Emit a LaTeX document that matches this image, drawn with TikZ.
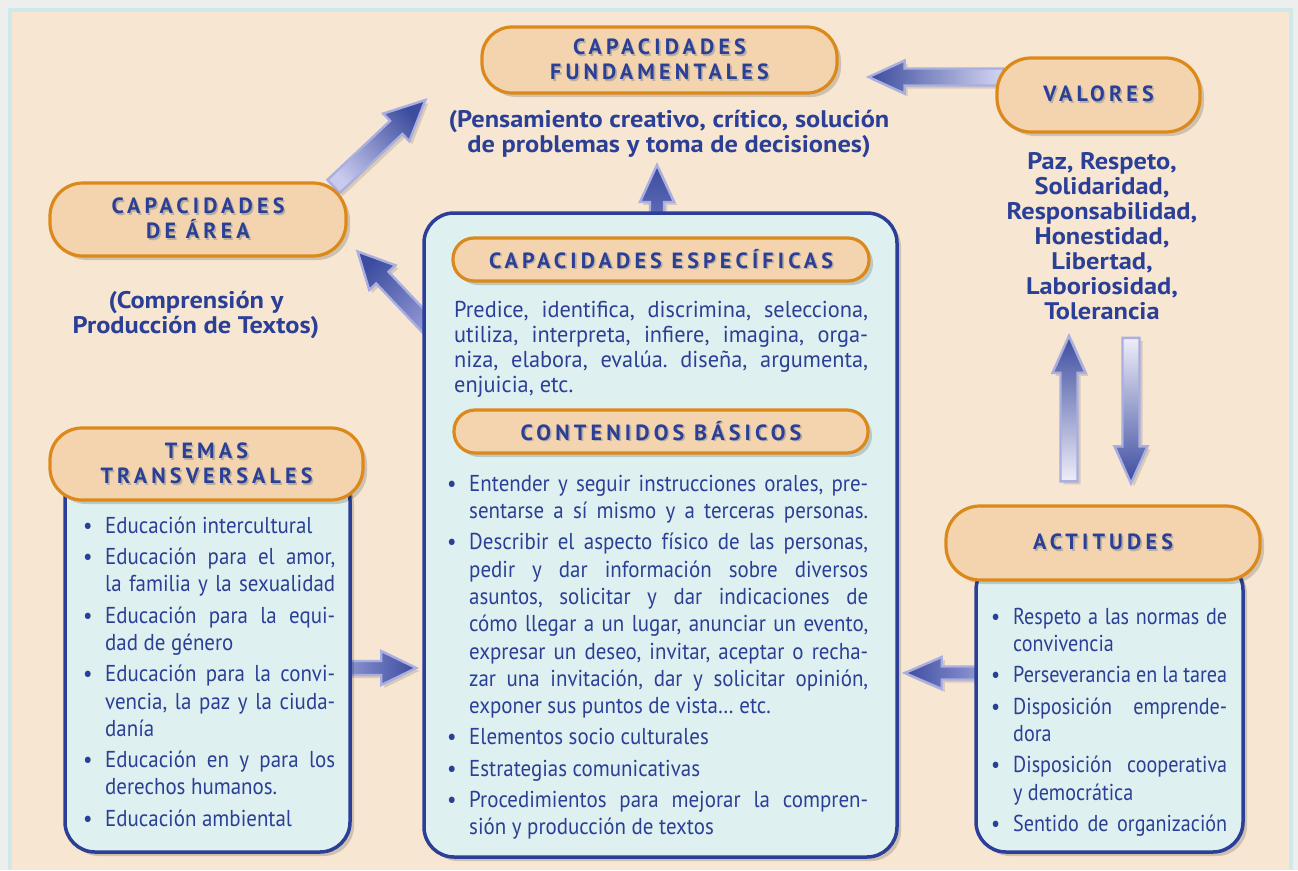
\documentclass[tikz,border=0pt]{standalone}
\usepackage{fontspec}
\setmainfont{PT Sans}
\newfontfamily\hfont[LetterSpace=19]{PT Sans}
\newfontfamily\bfnt[FakeStretch=1.1]{PT Sans}
\newfontfamily\lfont[FakeStretch=0.91]{PT Sans}
\newfontfamily\afont[FakeStretch=0.875]{PT Sans}
\newfontfamily\pfont[FakeStretch=0.97]{PT Sans}
\usetikzlibrary{calc,shadows}
\pgfdeclarelayer{bg}\pgfdeclarelayer{arrows}
\pgfsetlayers{bg,arrows,main}
\frenchspacing
\definecolor{outg}{HTML}{EDEFEF}
\definecolor{cyanB}{HTML}{CFE9E8}
\definecolor{beige}{HTML}{F7E6D1}
\definecolor{orF}{HTML}{F3D4AE}
\definecolor{orD}{HTML}{DC891B}
\definecolor{blF}{HTML}{DEF0EF}
\definecolor{blD}{HTML}{2B3E98}
\definecolor{tblue}{HTML}{2A3F95}
\definecolor{tshadow}{HTML}{B9ADA0}
\definecolor{arrline}{HTML}{AAAEE0}
\definecolor{arrdark}{HTML}{3C4C9F}
\definecolor{tailA}{HTML}{C9CBEE}
\definecolor{tailB}{HTML}{8E94D2}
\definecolor{tailC}{HTML}{D4D6F2}
\definecolor{tailD}{HTML}{5F6BB5}
\definecolor{tailE}{HTML}{8C92CF}
\definecolor{tailF}{HTML}{9096D3}
\definecolor{tailG}{HTML}{EEEEF8}
\newlength\BI \setlength\BI{22pt}
\newcommand\sps{\spaceskip=\fontdimen2\font plus 0.9\fontdimen2\font minus 0.45\fontdimen2\font\relax}
\newcommand\Bu{\makebox[\BI][l]{\textbullet}}
\newcommand\In{\hspace*{\BI}}
\newcommand\J[2]{\hbox to #1{#2}}
\newcommand\fst{\rule{0pt}{22pt}}
% header text with a soft drop shadow
\newcommand\st[1]{\rlap{\kern1.6pt\raisebox{-1.6pt}{\textcolor{tshadow}{#1}}}#1}
\newcommand\fapath[4]{($(#1)!#3!90:(#2)$) -- ($(fab)!#3!90:(#2)$) -- ($(fab)!#4!90:(#2)$) -- (#2) -- ($(fab)!#4!-90:(#2)$) -- ($(fab)!#3!-90:(#2)$) -- ($(#1)!#3!-90:(#2)$) -- cycle}
% #1 tail, #2 tip, #3 shaft half width, #4 head half width, #5 head length, #6 tail colour, #7 tip colour, #8 shading angle
\newcommand\fatarrow[8]{%
  \coordinate (fab) at ($(#2)!#5!(#1)$);
  \fill[black, opacity=0.12, transform canvas={shift={(3pt,-3pt)}}] \fapath{#1}{#2}{#3}{#4};
  \shadedraw[draw=arrline, line width=2.4pt, line join=miter, top color=#7, bottom color=#6, shading angle=#8] \fapath{#1}{#2}{#3}{#4};
}
\begin{document}
\begin{tikzpicture}[x=1pt,y=-1pt,
  shad/.style={drop shadow={shadow xshift=4pt, shadow yshift=-4pt, opacity=0.16, fill=black}},
  obox/.style={shad, draw=orD, line width=3.2pt, fill=orF, text=tblue, align=center, inner sep=0pt,
    font=\hfont\bfseries\fontsize{22}{25}\selectfont},
  bbox/.style={shad, draw=blD, line width=3.5pt, fill=blF, rounded corners=30pt, inner sep=0pt},
  btext/.style={text=tblue, align=center, inner sep=0pt, font=\bfnt\bfseries\fontsize{24}{25}\selectfont},
  listtext/.style={text=tblue, inner sep=0pt, anchor=north west, align=left, font=\lfont\fontsize{23}{27.3}\selectfont\sps},
  acttext/.style={listtext, font=\afont\fontsize{23}{27.6}\selectfont\sps},
  ptext/.style={text=tblue, inner sep=0pt, anchor=north west, align=left, font=\pfont\fontsize{23}{25}\selectfont\sps}
]
\begin{pgfonlayer}{bg}
\fill[outg] (0,0) rectangle (1298,870);
\fill[cyanB] (8,8) rectangle (1293,870);
\fill[beige] (12,12) rectangle (1289,870);
\end{pgfonlayer}
\useasboundingbox (0,0) rectangle (1298,870);

% top
\node[obox, rounded corners=30pt, minimum width=355pt, minimum height=66pt] (fund) at (659.5,60) {\st{CAPACIDADES}\\\st{FUNDAMENTALES}};
\node[btext] (fundsub) at (669,134) {(Pensamiento creativo, crítico, solución\\de problemas y toma de decisiones)};

% valores
\node[obox, rounded corners=34pt, minimum width=203pt, minimum height=74pt] (val) at (1098.5,95) {\st{VALORES}};
\node[btext] (valtext) at (1102,236) {Paz, Respeto,\\Solidaridad,\\Responsabilidad,\\Honestidad,\\Libertad,\\Laboriosidad,\\Tolerancia};

% area
\node[obox, rounded corners=33pt, minimum width=296pt, minimum height=73pt] (area) at (198,219.5) {\st{CAPACIDADES}\\\st{DE ÁREA}};
\node[btext] (areasub) at (196,315) {(Comprensión y\\Producción de Textos)};

% central
\node[bbox, minimum width=473pt, minimum height=644pt] (central) at (660.5,535) {};
\node[obox, rounded corners=21pt, minimum width=416pt, minimum height=43pt] (esp) at (661,259.5) {\st{CAPACIDADES ESPECÍFICAS}};
\node[ptext] (esptext) at (454,295) {%
\fst\J{414pt}{Predice, identifica, discrimina, selecciona,}\\
\J{414pt}{utiliza, interpreta, infiere, imagina, orga-}\\
\J{414pt}{niza, elabora, evalúa. diseña, argumenta,}\\
enjuicia, etc.};
\node[obox, rounded corners=21pt, minimum width=414pt, minimum height=43pt] (cont) at (661,431.5) {\st{CONTENIDOS BÁSICOS}};
\node[listtext] (contlist) at (447,469) {%
\fst\Bu\J{399pt}{Entender y seguir instrucciones orales, pre-}\\
\In\J{399pt}{sentarse a sí mismo y a terceras personas.}\\[4pt]
\Bu\J{399pt}{Describir el aspecto físico de las personas,}\\
\In\J{399pt}{pedir y dar información sobre diversos}\\
\In\J{399pt}{asuntos, solicitar y dar indicaciones de}\\
\In\J{399pt}{cómo llegar a un lugar, anunciar un evento,}\\
\In\J{399pt}{expresar un deseo, invitar, aceptar o recha-}\\
\In\J{399pt}{zar una invitación, dar y solicitar opinión,}\\
\In exponer sus puntos de vista\ldots{} etc.\\[4pt]
\Bu Elementos socio culturales\\[4pt]
\Bu Estrategias comunicativas\\[4pt]
\Bu\J{399pt}{Procedimientos para mejorar la compren-}\\
\In sión y producción de textos};

% temas
\node[bbox, minimum width=285pt, minimum height=382pt] (temb) at (207.5,661) {};
\node[obox, rounded corners=32pt, minimum width=313pt, minimum height=72pt] (tem) at (206.5,464) {\st{TEMAS}\\\st{TRANSVERSALES}};
\node[listtext] (temlist) at (83,511) {%
\fst\Bu Educación intercultural\\[4pt]
\Bu\J{230pt}{Educación para el amor,}\\
\In\J{230pt}{la familia y la sexualidad}\\[4pt]
\Bu\J{230pt}{Educación para la equi-}\\
\In dad de género\\[4pt]
\Bu\J{230pt}{Educación para la convi-}\\
\In\J{230pt}{vencia, la paz y la ciuda-}\\
\In danía\\[4pt]
\Bu\J{230pt}{Educación en y para los}\\
\In derechos humanos.\\[4pt]
\Bu Educación ambiental};

% actitudes
\node[bbox, minimum width=267pt, minimum height=292pt] (actb) at (1109.5,706) {};
\node[obox, rounded corners=34pt, minimum width=314pt, minimum height=74pt] (act) at (1103,543) {\st{ACTITUDES}};
\node[acttext] (actlist) at (991,602) {%
\fst\Bu\J{214pt}{Respeto a las normas de}\\
\In convivencia\\[3.5pt]
\Bu\J{214pt}{Perseverancia en la tarea}\\[3.5pt]
\Bu\J{214pt}{Disposición emprende-}\\
\In dora\\[3.5pt]
\Bu\J{214pt}{Disposición cooperativa}\\
\In y democrática\\[3.5pt]
\Bu\J{214pt}{Sentido de organización}};

% arrows
\begin{pgfonlayer}{arrows}
\coordinate (a1t) at ($(area.north east)+(-14,5)$);
\coordinate (a1h) at ($(fund.west)+(-55,40)$);
\fatarrow{a1t}{a1h}{9pt}{19pt}{40pt}{tailA}{arrdark}{-48.2}
\coordinate (a2t) at ($(central.north west)+(8,117)$);
\coordinate (a2h) at ($(area.east)+(10,32)$);
\fatarrow{a2t}{a2h}{8.5pt}{18pt}{36pt}{tailB}{arrdark}{45.8}
\coordinate (a3t) at ($(val.west)+(8,-18)$);
\coordinate (a3h) at ($(fund.east)+(30,17)$);
\fatarrow{a3t}{a3h}{8.5pt}{16.5pt}{36pt}{tailC}{arrdark}{90}
\coordinate (a4t) at ($(central.north)+(-3.5,6)$);
\coordinate (a4h) at ($(fundsub.south)+(-12,7)$);
\fatarrow{a4t}{a4h}{7pt}{17pt}{37pt}{tailD}{arrdark}{0}
\coordinate (a5t) at ($(temb.east)+(-5,7)$);
\coordinate (a5h) at ($(central.west)+(-6,133)$);
\fatarrow{a5t}{a5h}{7pt}{17pt}{35pt}{tailE}{arrdark}{-90}
\coordinate (a6t) at ($(actb.west)+(6,-33)$);
\coordinate (a6h) at ($(central.east)+(6,138)$);
\fatarrow{a6t}{a6h}{6.5pt}{16pt}{37pt}{tailF}{arrdark}{90}
\coordinate (a7t) at ($(act.north)+(-34,-23)$);
\coordinate (a7h) at ($(valtext.south)+(-33,16)$);
\fatarrow{a7t}{a7h}{8.5pt}{16.5pt}{37pt}{tailG}{arrdark}{0}
\coordinate (a8t) at ($(valtext.south)+(29,18)$);
\coordinate (a8h) at ($(act.north)+(28,-21)$);
\fatarrow{a8t}{a8h}{8.5pt}{16.5pt}{37pt}{tailG}{arrdark}{180}
\end{pgfonlayer}
\end{tikzpicture}
\end{document}
